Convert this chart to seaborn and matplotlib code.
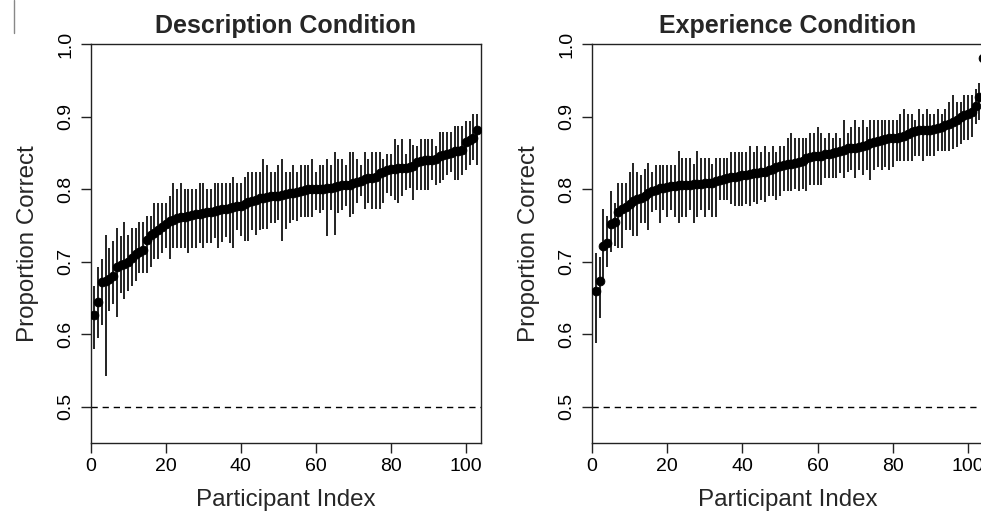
import numpy as np
import pandas as pd
import matplotlib
matplotlib.use('Agg')
import matplotlib.pyplot as plt
from matplotlib.lines import Line2D
import seaborn as sns

# Description condition: sorted proportion correct per participant, with interval ends
desc_mean = [0.626, 0.644, 0.672, 0.673, 0.676, 0.680, 0.693, 0.695, 0.697, 0.700,
             0.705, 0.710, 0.713, 0.716, 0.730, 0.736, 0.740, 0.744, 0.748, 0.752,
             0.756, 0.758, 0.760, 0.761, 0.762, 0.763, 0.764, 0.765, 0.766, 0.767,
             0.768, 0.769, 0.770, 0.771, 0.772, 0.773, 0.774, 0.775, 0.776, 0.777,
             0.780, 0.782, 0.784, 0.785, 0.787, 0.788, 0.789, 0.790, 0.790, 0.791,
             0.792, 0.793, 0.794, 0.795, 0.796, 0.798, 0.799, 0.800, 0.800, 0.800,
             0.800, 0.800, 0.801, 0.802, 0.803, 0.804, 0.805, 0.805, 0.806, 0.808,
             0.810, 0.811, 0.814, 0.815, 0.815, 0.816, 0.822, 0.824, 0.826, 0.827,
             0.828, 0.829, 0.829, 0.829, 0.830, 0.832, 0.837, 0.839, 0.840, 0.840,
             0.840, 0.841, 0.845, 0.847, 0.849, 0.850, 0.852, 0.853, 0.854, 0.865,
             0.868, 0.870, 0.881]
desc_hi = [0.667, 0.693, 0.703, 0.737, 0.719, 0.728, 0.746, 0.735, 0.755, 0.737,
           0.746, 0.746, 0.755, 0.755, 0.763, 0.763, 0.781, 0.781, 0.781, 0.781,
           0.790, 0.808, 0.800, 0.808, 0.800, 0.800, 0.800, 0.800, 0.808, 0.808,
           0.800, 0.800, 0.808, 0.808, 0.808, 0.808, 0.808, 0.817, 0.808, 0.808,
           0.817, 0.824, 0.824, 0.824, 0.824, 0.842, 0.833, 0.824, 0.824, 0.833,
           0.842, 0.824, 0.824, 0.833, 0.824, 0.833, 0.833, 0.833, 0.842, 0.824,
           0.833, 0.833, 0.842, 0.833, 0.851, 0.842, 0.842, 0.833, 0.851, 0.851,
           0.842, 0.833, 0.851, 0.842, 0.851, 0.851, 0.851, 0.842, 0.849, 0.849,
           0.869, 0.861, 0.869, 0.849, 0.869, 0.861, 0.859, 0.869, 0.869, 0.869,
           0.869, 0.859, 0.878, 0.878, 0.878, 0.878, 0.887, 0.887, 0.887, 0.894,
           0.894, 0.903, 0.903]
desc_lo = [0.579, 0.595, 0.613, 0.543, 0.632, 0.641, 0.623, 0.657, 0.648, 0.660,
           0.666, 0.673, 0.684, 0.684, 0.684, 0.693, 0.703, 0.703, 0.712, 0.719,
           0.703, 0.719, 0.719, 0.719, 0.719, 0.712, 0.719, 0.719, 0.726, 0.719,
           0.726, 0.726, 0.733, 0.719, 0.727, 0.734, 0.726, 0.719, 0.744, 0.735,
           0.729, 0.728, 0.744, 0.737, 0.744, 0.745, 0.745, 0.753, 0.753, 0.758,
           0.728, 0.745, 0.753, 0.758, 0.756, 0.762, 0.762, 0.762, 0.762, 0.771,
           0.767, 0.771, 0.735, 0.771, 0.736, 0.767, 0.771, 0.776, 0.762, 0.765,
           0.781, 0.790, 0.772, 0.781, 0.772, 0.772, 0.772, 0.781, 0.794, 0.790,
           0.785, 0.781, 0.790, 0.799, 0.801, 0.785, 0.799, 0.799, 0.799, 0.799,
           0.813, 0.806, 0.808, 0.813, 0.820, 0.824, 0.813, 0.813, 0.820, 0.826,
           0.833, 0.840, 0.833]

# Experience condition
exp_mean = [0.659, 0.673, 0.722, 0.725, 0.752, 0.754, 0.768, 0.772, 0.775, 0.779,
            0.783, 0.786, 0.787, 0.790, 0.794, 0.797, 0.799, 0.801, 0.802, 0.803,
            0.804, 0.804, 0.805, 0.805, 0.806, 0.806, 0.807, 0.807, 0.807, 0.808,
            0.808, 0.809, 0.811, 0.813, 0.814, 0.815, 0.816, 0.817, 0.818, 0.819,
            0.820, 0.821, 0.822, 0.822, 0.823, 0.824, 0.826, 0.828, 0.830, 0.832,
            0.833, 0.834, 0.835, 0.836, 0.837, 0.838, 0.843, 0.844, 0.845, 0.845,
            0.846, 0.848, 0.849, 0.850, 0.851, 0.852, 0.854, 0.856, 0.857, 0.857,
            0.858, 0.859, 0.861, 0.863, 0.865, 0.866, 0.867, 0.869, 0.870, 0.871,
            0.871, 0.872, 0.873, 0.876, 0.879, 0.880, 0.881, 0.881, 0.882, 0.882,
            0.883, 0.884, 0.886, 0.888, 0.890, 0.892, 0.895, 0.899, 0.902, 0.904,
            0.906, 0.915, 0.927, 0.981]
exp_hi = [0.712, 0.707, 0.772, 0.763, 0.798, 0.781, 0.809, 0.808, 0.808, 0.824,
          0.836, 0.824, 0.819, 0.828, 0.836, 0.824, 0.833, 0.833, 0.833, 0.833,
          0.833, 0.833, 0.852, 0.843, 0.843, 0.843, 0.834, 0.852, 0.843, 0.843,
          0.843, 0.834, 0.843, 0.843, 0.843, 0.843, 0.851, 0.851, 0.851, 0.851,
          0.851, 0.860, 0.851, 0.860, 0.851, 0.860, 0.851, 0.860, 0.851, 0.860,
          0.860, 0.870, 0.877, 0.870, 0.870, 0.870, 0.870, 0.877, 0.877, 0.886,
          0.877, 0.870, 0.877, 0.870, 0.877, 0.870, 0.895, 0.877, 0.886, 0.895,
          0.886, 0.895, 0.886, 0.895, 0.895, 0.895, 0.895, 0.895, 0.895, 0.895,
          0.895, 0.903, 0.911, 0.903, 0.903, 0.895, 0.911, 0.903, 0.911, 0.903,
          0.903, 0.911, 0.903, 0.911, 0.920, 0.929, 0.920, 0.920, 0.929, 0.929,
          0.929, 0.938, 0.946, 0.995]
exp_lo = [0.588, 0.622, 0.673, 0.693, 0.713, 0.721, 0.719, 0.719, 0.744, 0.744,
          0.735, 0.735, 0.753, 0.753, 0.744, 0.769, 0.771, 0.753, 0.771, 0.762,
          0.771, 0.762, 0.753, 0.762, 0.762, 0.771, 0.753, 0.762, 0.771, 0.762,
          0.771, 0.762, 0.762, 0.785, 0.785, 0.785, 0.780, 0.776, 0.776, 0.776,
          0.780, 0.776, 0.782, 0.780, 0.785, 0.782, 0.790, 0.790, 0.785, 0.790,
          0.797, 0.797, 0.797, 0.800, 0.797, 0.800, 0.797, 0.806, 0.806, 0.806,
          0.806, 0.815, 0.815, 0.815, 0.815, 0.822, 0.815, 0.824, 0.826, 0.815,
          0.826, 0.820, 0.826, 0.813, 0.826, 0.831, 0.826, 0.831, 0.826, 0.831,
          0.838, 0.838, 0.838, 0.838, 0.838, 0.845, 0.845, 0.838, 0.845, 0.845,
          0.845, 0.852, 0.852, 0.852, 0.852, 0.855, 0.858, 0.862, 0.868, 0.868,
          0.872, 0.890, 0.895, 0.960]

titles = ['Description Condition', 'Experience Condition']
x_ticks = [0, 20, 40, 60, 80, 100]
y_ticks = [0.5, 0.6, 0.7, 0.8, 0.9, 1.0]
chance = 0.5

sns.set_theme(style='ticks')
plt.rcParams['font.family'] = ['Liberation Sans', 'DejaVu Sans']

fig = plt.figure(figsize=(9.81, 5.13), dpi=100)
# the right panel runs past the edge of the picture, as in the cropped original
ax1 = fig.add_axes([0.0925, 0.1365, 0.3976, 0.7778])
ax2 = fig.add_axes([0.6035, 0.1365, 0.3986, 0.7778])

panels = [(ax1, desc_mean, desc_lo, desc_hi, titles[0]),
          (ax2, exp_mean, exp_lo, exp_hi, titles[1])]

for ax, mean, lo, hi, title in panels:
    df = pd.DataFrame({'idx': np.arange(1, len(mean) + 1), 'mean': mean, 'lo': lo, 'hi': hi})
    ax.vlines(df['idx'], df['lo'], df['hi'], color='#111111', linewidth=1.3, zorder=2)
    sns.scatterplot(data=df, x='idx', y='mean', ax=ax, color='black', s=40,
                    edgecolor='black', linewidth=0.6, zorder=3, legend=False)
    ax.axhline(chance, color='black', linewidth=1.0, dashes=(4.5, 3.5), zorder=1)

    ax.set_xlim(0, 104)
    ax.set_ylim(0.45, 1.0)
    ax.set_xticks(x_ticks)
    ax.set_yticks(y_ticks)
    ax.set_yticklabels(['{:.1f}'.format(v) for v in y_ticks])
    ax.tick_params(axis='both', which='major', labelsize=14, length=7, width=1,
                   color='#222222', labelcolor='black', direction='out', pad=4)
    ax.tick_params(axis='y', labelrotation=90, pad=5)
    plt.setp(ax.get_yticklabels(), va='center')

    for sp in ax.spines.values():
        sp.set_color('#222222')
        sp.set_linewidth(1.0)

    ax.set_title(title, fontsize=18, fontweight='bold', pad=8)
    ax.set_xlabel('Participant Index', fontsize=17.4, labelpad=10)
    ax.set_ylabel('Proportion Correct', fontsize=17.4, labelpad=13)

# thin gray rule at the top-left corner of the scanned page
fig.add_artist(Line2D([0.0143, 0.0143], [1.0, 1.0 - 33 / 513], transform=fig.transFigure,
                      color='#888888', linewidth=1.0))

fig.savefig('out.png', dpi=100)
plt.close()
